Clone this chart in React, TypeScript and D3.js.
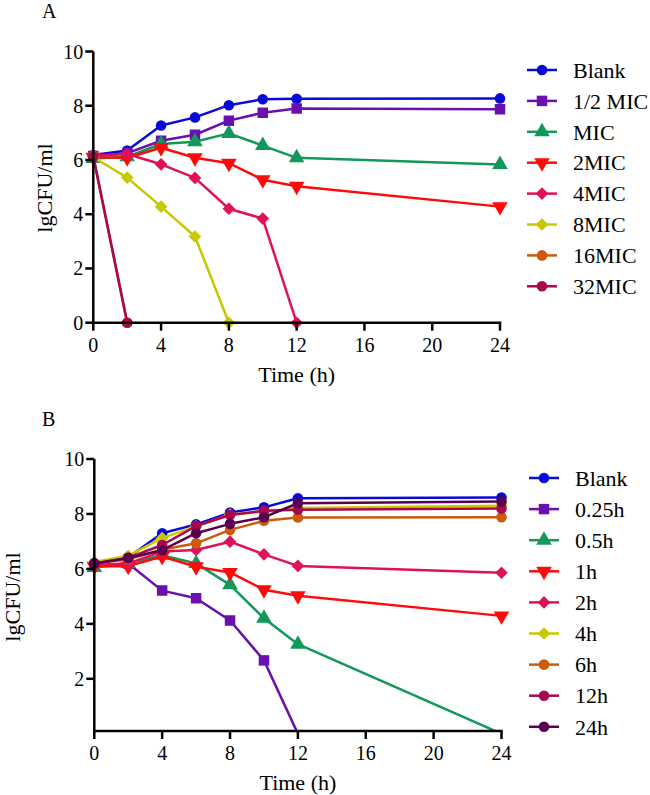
import React from "react";
import * as d3 from "d3";

const times = [0, 2, 4, 6, 8, 10, 12, 24];
const xTicks = [0, 4, 8, 12, 16, 20, 24];

const seriesNamesA = ["Blank", "1/2 MIC", "MIC", "2MIC", "4MIC", "8MIC", "16MIC", "32MIC"];
const blankA = [6.18, 6.35, 7.27, 7.57, 8.02, 8.24, 8.26, 8.27];
const halfMicA = [6.15, 6.25, 6.71, 6.93, 7.45, 7.74, 7.9, 7.87];
const micA = [6.05, 6.12, 6.59, 6.67, 6.98, 6.53, 6.08, 5.83];
const mic2A = [6.1, 6.08, 6.45, 6.08, 5.88, 5.27, 5.03, 4.28];
const mic4A = [6.15, 6.22, 5.84, 5.34, 4.2, 3.84, 0];
const mic8A = [6.1, 5.35, 4.28, 3.18, 0];
const mic16A = [6.15, 0];
const mic32A = [6.12, 0];

const seriesNamesB = ["Blank", "0.25h", "0.5h", "1h", "2h", "4h", "6h", "12h", "24h"];
const blankB = [6.18, 6.42, 7.3, 7.62, 8.05, 8.24, 8.57, 8.6];
const h025B = [6.1, 6.2, 5.21, 4.93, 4.12, 2.67, 0];
const h05B = [6.05, 6.2, 6.5, 6.2, 5.42, 4.2, 3.26, 0];
const h1B = [6.1, 6.1, 6.45, 6.08, 5.87, 5.24, 5.02, 4.29];
const h2B = [6.15, 6.2, 6.63, 6.69, 6.99, 6.53, 6.11, 5.86];
const h4B = [6.25, 6.48, 7.12, 7.55, 7.98, 8.08, 8.22, 8.3];
const h6B = [6.2, 6.35, 6.7, 6.93, 7.42, 7.75, 7.87, 7.88];
const h12B = [6.2, 6.4, 6.87, 7.56, 7.96, 8.12, 8.15, 8.2];
const h24B = [6.2, 6.4, 6.68, 7.3, 7.64, 7.88, 8.39, 8.45];

const colors = ["#0a0ad8", "#6a0fb0", "#12985a", "#ff0a0a", "#e0105a", "#c8c800", "#cc5a08", "#a8084e", "#5a0050"];
const shapesA = ["circle", "square", "triUp", "triDown", "diamond", "diamond", "circle", "circle"];
const shapesB = ["circle", "square", "triUp", "triDown", "diamond", "diamond", "circle", "circle", "circle"];

const FONT = "Liberation Serif, Times New Roman, serif";

function markerPath(shape: string) {
  if (shape === "circle") return d3.symbol(d3.symbolCircle, 88)()!;
  if (shape === "square") return d3.symbol(d3.symbolSquare, 110)()!;
  if (shape === "triUp" || shape === "triDown") return d3.symbol(d3.symbolTriangle, 105)()!;
  return d3.symbol(d3.symbolSquare, 80)()!;
}
function markerRot(shape: string) {
  if (shape === "triDown") return 180;
  if (shape === "diamond") return 45;
  return 0;
}

type Panel = {
  label: string;
  names: string[];
  data: number[][];
  shapes: string[];
  colorIdx: number[];
  x0: number; x1: number; yTop: number; yBot: number;
  yMin: number;
  yTicks: number[];
  legendY: number; legendX: number; legendStep: number;
  yTitleX: number; yTitleY: number;
};

function PanelView({ p }: { p: Panel }) {
  const x = d3.scaleLinear().domain([0, 24]).range([p.x0, p.x1]);
  const y = d3.scaleLinear().domain([p.yMin, 10]).range([p.yBot, p.yTop]);
  const line = d3.line<[number, number]>().x(d => x(d[0])).y(d => y(d[1]));
  const clipId = "clip" + p.label;
  return (
    <g>
      <defs>
        <clipPath id={clipId}>
          <rect x={p.x0 - 20} y={p.yTop - 20} width={p.x1 - p.x0 + 40} height={p.yBot - p.yTop + 20 + (p.yMin > 0 ? 0 : 20)} />
        </clipPath>
      </defs>
      <text x={42} y={p.yTop - 33.5} fontFamily={FONT} fontSize={20}>{p.label}</text>
      <g clipPath={`url(#${clipId})`}>
        {p.data.map((vals, i) => {
          const pts: [number, number][] = vals.map((v, j) => [times[j], v]);
          const c = colors[p.colorIdx[i]];
          return (
            <g key={i}>
              <path d={line(pts)!} fill="none" stroke={c} strokeWidth={2.5} strokeLinejoin="round" />
              {pts.filter(d => d[1] >= p.yMin).map((d, j) => (
                <path key={j} d={markerPath(p.shapes[i])} fill={c}
                  transform={`translate(${x(d[0])},${y(d[1])}) rotate(${markerRot(p.shapes[i])})`} />
              ))}
            </g>
          );
        })}
      </g>
      <line x1={p.x0} x2={p.x0} y1={p.yTop} y2={p.yBot + 1.2} stroke="#000" strokeWidth={2.5} />
      <line x1={p.x0 - 1.2} x2={p.x1 + 1.2} y1={p.yBot} y2={p.yBot} stroke="#000" strokeWidth={2.5} />
      {p.yTicks.map(t => (
        <g key={t}>
          <line x1={p.x0 - 8} x2={p.x0} y1={y(t)} y2={y(t)} stroke="#000" strokeWidth={2.5} />
          <text x={p.x0 - 10} y={y(t)} dy="0.35em" textAnchor="end" fontFamily={FONT} fontSize={20}>{t}</text>
        </g>
      ))}
      {xTicks.map(t => (
        <g key={t}>
          <line x1={x(t)} x2={x(t)} y1={p.yBot} y2={p.yBot + 8} stroke="#000" strokeWidth={2.5} />
          <text x={x(t)} y={p.yBot + 29} textAnchor="middle" fontFamily={FONT} fontSize={20}>{t}</text>
        </g>
      ))}
      <text x={(p.x0 + p.x1) / 2} y={p.yBot + 59} textAnchor="middle" fontFamily={FONT} fontSize={22}>Time (h)</text>
      <text transform={`translate(${p.yTitleX},${p.yTitleY}) rotate(-90)`} textAnchor="middle" fontFamily={FONT} fontSize={22}>lgCFU/ml</text>
      {p.names.map((n, i) => {
        const ly = p.legendY + i * p.legendStep;
        const c = colors[p.colorIdx[i]];
        return (
          <g key={n}>
            <line x1={p.legendX} x2={p.legendX + 30} y1={ly} y2={ly} stroke={c} strokeWidth={2.5} />
            <path d={markerPath(p.shapes[i])} fill={c} transform={`translate(${p.legendX + 15},${ly}) rotate(${markerRot(p.shapes[i])})`} />
            <text x={p.legendX + 46} y={ly} dy="0.35em" fontFamily={FONT} fontSize={22}>{n}</text>
          </g>
        );
      })}
    </g>
  );
}

export default function App() {
  const panelA: Panel = {
    label: "A",
    names: seriesNamesA,
    data: [blankA, halfMicA, micA, mic2A, mic4A, mic8A, mic16A, mic32A],
    shapes: shapesA,
    colorIdx: [0, 1, 2, 3, 4, 5, 6, 7],
    x0: 93.3, x1: 500, yTop: 51.5, yBot: 322.7, yMin: 0,
    yTicks: [0, 2, 4, 6, 8, 10],
    legendY: 70, legendX: 527, legendStep: 30.9,
    yTitleX: 51.5, yTitleY: 188,
  };
  const panelB: Panel = {
    label: "B",
    names: seriesNamesB,
    data: [blankB, h025B, h05B, h1B, h2B, h4B, h6B, h12B, h24B],
    shapes: shapesB,
    colorIdx: [0, 1, 2, 3, 4, 5, 6, 7, 8],
    x0: 94.3, x1: 501.5, yTop: 459, yBot: 731, yMin: 0.1,
    yTicks: [2, 4, 6, 8, 10],
    legendY: 478, legendX: 529, legendStep: 31.1,
    yTitleX: 19.5, yTitleY: 597,
  };
  return (
    <svg width={650} height={795} style={{ position: "absolute", left: 0, top: 0, background: "#fff" }}>
      <rect width={650} height={795} fill="#fff" />
      <PanelView p={panelA} />
      <PanelView p={panelB} />
    </svg>
  );
}
